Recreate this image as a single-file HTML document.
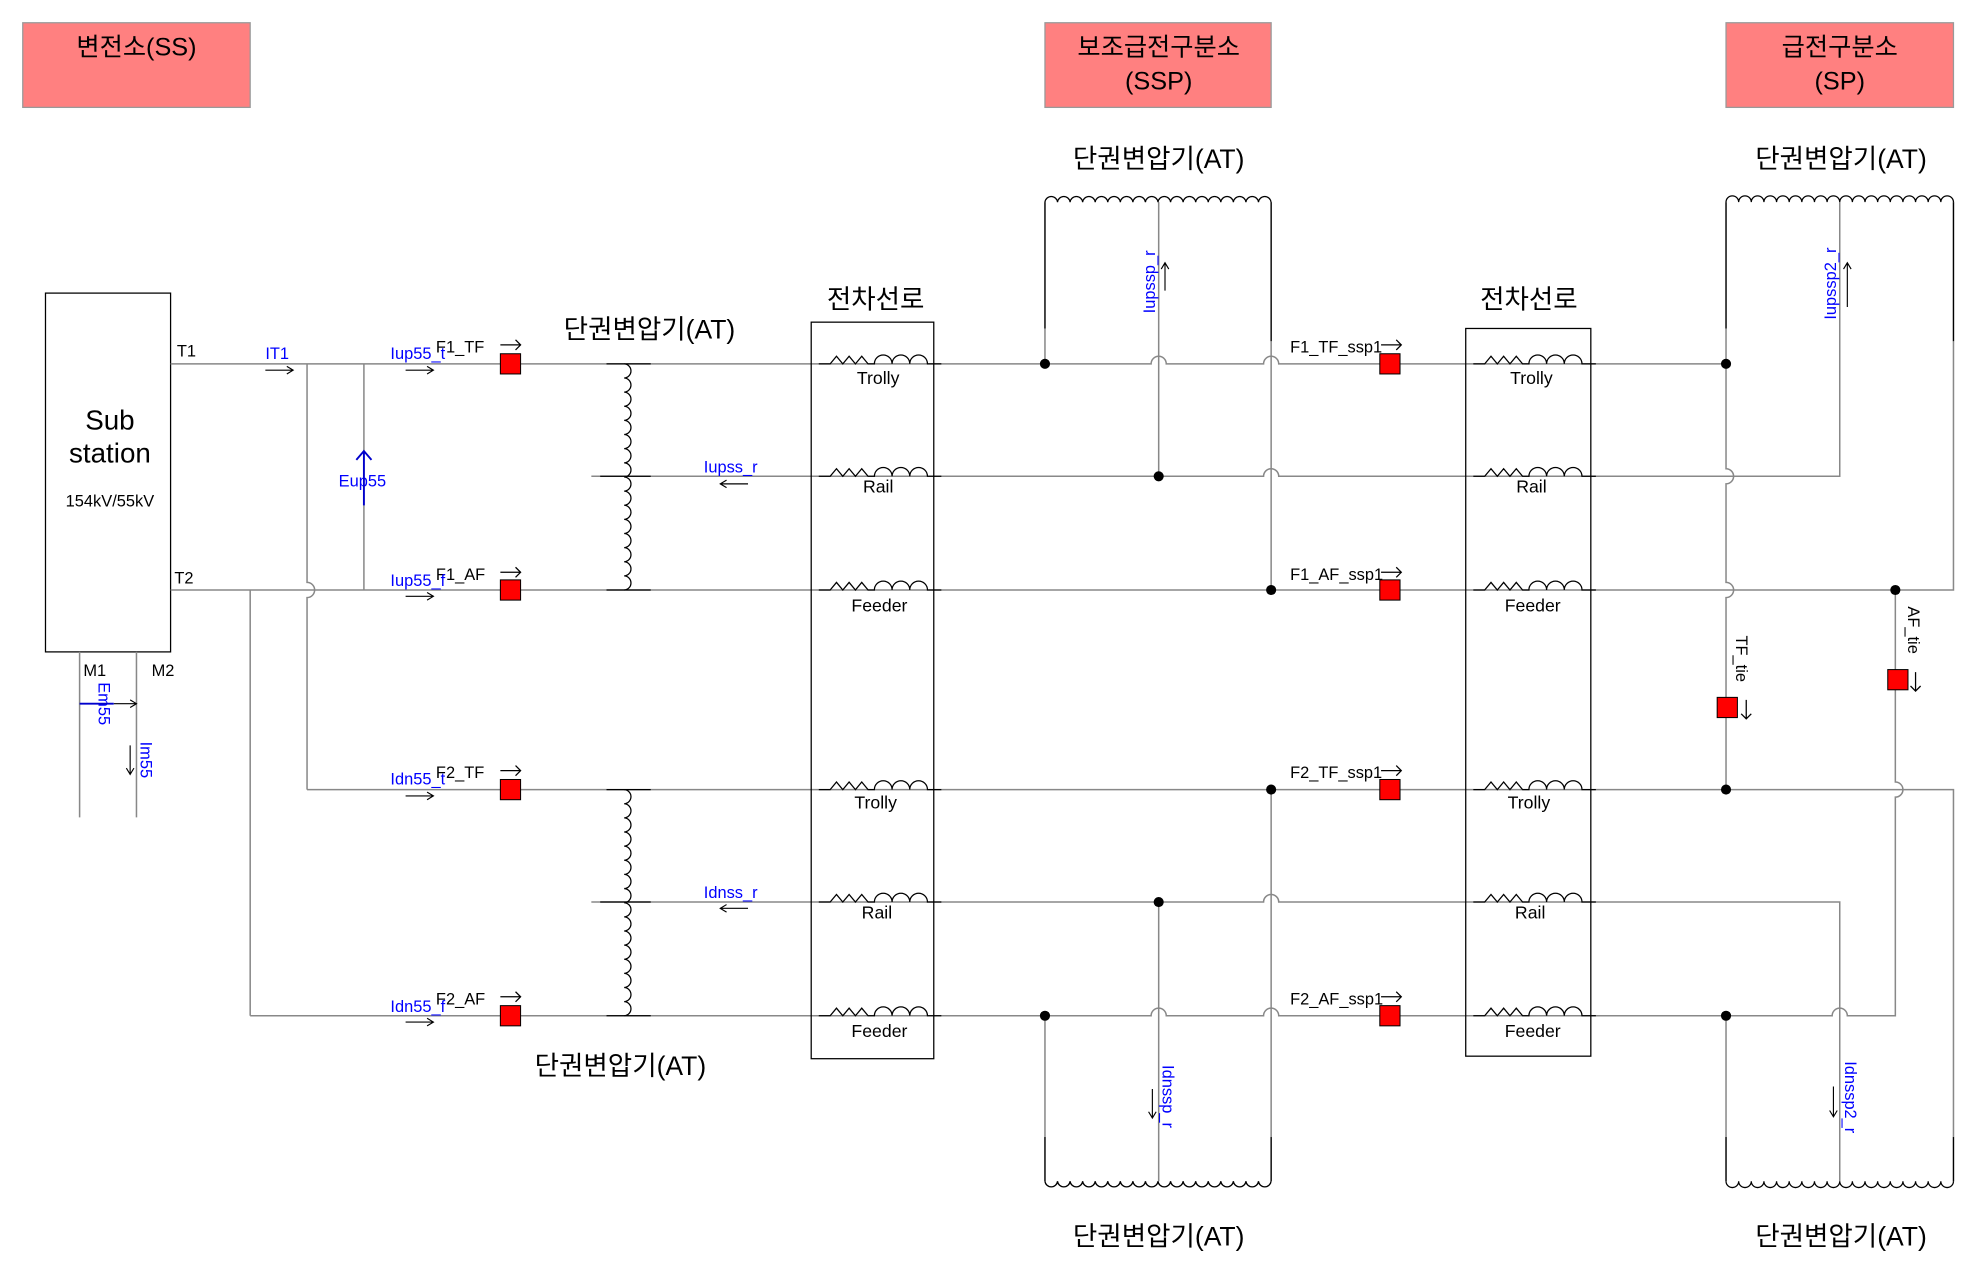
<!DOCTYPE html>
<html><head><meta charset="utf-8"><style>
html,body{margin:0;padding:0;background:#fff;width:1980px;height:1276px;overflow:hidden}
svg{display:block}
text{font-family:"Liberation Sans","Noto Sans CJK KR",sans-serif}
.s{font-size:13px;fill:#000}
.b{font-size:13px;fill:#0000ff}
.k{font-size:21px;fill:#000}
</style></head><body>
<svg width="1980" height="1276" viewBox="0 0 1567 1010" preserveAspectRatio="none" xmlns="http://www.w3.org/2000/svg">
<!-- headers -->
<rect x="18" y="18" width="180" height="67" fill="#ff8080" stroke="#999"/>
<rect x="827" y="18" width="179" height="67" fill="#ff8080" stroke="#999"/>
<rect x="1366" y="18" width="180" height="67" fill="#ff8080" stroke="#999"/>
<text x="108" y="44" class="k" text-anchor="middle" style="font-size:20px">변전소(SS)</text>
<text x="917" y="44" class="k" text-anchor="middle" style="font-size:20px">보조급전구분소</text>
<text x="917" y="71" class="k" text-anchor="middle" style="font-size:20px">(SSP)</text>
<text x="1456" y="44" class="k" text-anchor="middle" style="font-size:20px">급전구분소</text>
<text x="1456" y="71" class="k" text-anchor="middle" style="font-size:20px">(SP)</text>

<!-- substation -->
<rect x="36" y="232" width="99" height="284" fill="none" stroke="#000"/>
<text x="87" y="340" text-anchor="middle" style="font-size:22px">Sub</text>
<text x="87" y="366" text-anchor="middle" style="font-size:22px">station</text>
<text x="87" y="401" text-anchor="middle" class="s">154kV/55kV</text>
<text x="140" y="282" class="s">T1</text>
<text x="138" y="462" class="s">T2</text>
<text x="66" y="535" class="s">M1</text>
<text x="120" y="535" class="s">M2</text>

<g fill="none" stroke="#888" stroke-width="1.2">
<line x1="63" y1="516" x2="63" y2="647"/>
<line x1="108" y1="516" x2="108" y2="647"/>
<path d="M135 288 H911 a6 6 0 0 1 12 0 H1000 a6 6 0 0 1 12 0 H1366"/>
<path d="M468 377 H1000 a6 6 0 0 1 12 0 H1456 V160"/>
<path d="M135 467 H1546 V160"/>
<path d="M243 625 H1546 V935"/>
<path d="M468 714 H1000 a6 6 0 0 1 12 0 H1456 V935"/>
<path d="M198 804 H911 a6 6 0 0 1 12 0 H1000 a6 6 0 0 1 12 0 H1450 a6 6 0 0 1 12 0 H1500 V631 a6 6 0 0 0 0 -12 V467"/>
<path d="M243 288 V461 a6 6 0 0 1 0 12 V625"/>
<line x1="288" y1="288" x2="288" y2="467"/>
<line x1="198" y1="467" x2="198" y2="804"/>
<line x1="827" y1="160" x2="827" y2="288"/>
<line x1="917" y1="160" x2="917" y2="377"/>
<line x1="1006" y1="160" x2="1006" y2="467"/>
<line x1="827" y1="804" x2="827" y2="935"/>
<line x1="917" y1="714" x2="917" y2="935"/>
<line x1="1006" y1="625" x2="1006" y2="935"/>
<path d="M1366 160 V371 a6 6 0 0 1 0 12 V461 a6 6 0 0 1 0 12 V625"/>
<line x1="1366" y1="804" x2="1366" y2="935"/>
</g>

<g fill="none" stroke="#000" stroke-width="1">
<path d="M494 288 a5.6 5.6 0 0 1 0 11.19 a5.6 5.6 0 0 1 0 11.19 a5.6 5.6 0 0 1 0 11.19 a5.6 5.6 0 0 1 0 11.19 a5.6 5.6 0 0 1 0 11.19 a5.6 5.6 0 0 1 0 11.19 a5.6 5.6 0 0 1 0 11.19 a5.6 5.6 0 0 1 0 11.19 a5.6 5.6 0 0 1 0 11.19 a5.6 5.6 0 0 1 0 11.19 a5.6 5.6 0 0 1 0 11.19 a5.6 5.6 0 0 1 0 11.19 a5.6 5.6 0 0 1 0 11.19 a5.6 5.6 0 0 1 0 11.19 a5.6 5.6 0 0 1 0 11.19 a5.6 5.6 0 0 1 0 11.19"/>
<path d="M494 625 a5.6 5.6 0 0 1 0 11.19 a5.6 5.6 0 0 1 0 11.19 a5.6 5.6 0 0 1 0 11.19 a5.6 5.6 0 0 1 0 11.19 a5.6 5.6 0 0 1 0 11.19 a5.6 5.6 0 0 1 0 11.19 a5.6 5.6 0 0 1 0 11.19 a5.6 5.6 0 0 1 0 11.19 a5.6 5.6 0 0 1 0 11.19 a5.6 5.6 0 0 1 0 11.19 a5.6 5.6 0 0 1 0 11.19 a5.6 5.6 0 0 1 0 11.19 a5.6 5.6 0 0 1 0 11.19 a5.6 5.6 0 0 1 0 11.19 a5.6 5.6 0 0 1 0 11.19 a5.6 5.6 0 0 1 0 11.19"/>
<path d="M827 160 a5 5 0 0 1 9.94 0 a5 5 0 0 1 9.94 0 a5 5 0 0 1 9.94 0 a5 5 0 0 1 9.94 0 a5 5 0 0 1 9.94 0 a5 5 0 0 1 9.94 0 a5 5 0 0 1 9.94 0 a5 5 0 0 1 9.94 0 a5 5 0 0 1 9.94 0 a5 5 0 0 1 9.94 0 a5 5 0 0 1 9.94 0 a5 5 0 0 1 9.94 0 a5 5 0 0 1 9.94 0 a5 5 0 0 1 9.94 0 a5 5 0 0 1 9.94 0 a5 5 0 0 1 9.94 0 a5 5 0 0 1 9.94 0 a5 5 0 0 1 9.94 0"/>
<path d="M1366 160 a5 5 0 0 1 10 0 a5 5 0 0 1 10 0 a5 5 0 0 1 10 0 a5 5 0 0 1 10 0 a5 5 0 0 1 10 0 a5 5 0 0 1 10 0 a5 5 0 0 1 10 0 a5 5 0 0 1 10 0 a5 5 0 0 1 10 0 a5 5 0 0 1 10 0 a5 5 0 0 1 10 0 a5 5 0 0 1 10 0 a5 5 0 0 1 10 0 a5 5 0 0 1 10 0 a5 5 0 0 1 10 0 a5 5 0 0 1 10 0 a5 5 0 0 1 10 0 a5 5 0 0 1 10 0"/>
<path d="M827 935 a5 5 0 0 0 9.94 0 a5 5 0 0 0 9.94 0 a5 5 0 0 0 9.94 0 a5 5 0 0 0 9.94 0 a5 5 0 0 0 9.94 0 a5 5 0 0 0 9.94 0 a5 5 0 0 0 9.94 0 a5 5 0 0 0 9.94 0 a5 5 0 0 0 9.94 0 a5 5 0 0 0 9.94 0 a5 5 0 0 0 9.94 0 a5 5 0 0 0 9.94 0 a5 5 0 0 0 9.94 0 a5 5 0 0 0 9.94 0 a5 5 0 0 0 9.94 0 a5 5 0 0 0 9.94 0 a5 5 0 0 0 9.94 0 a5 5 0 0 0 9.94 0"/>
<path d="M1366 935 a5 5 0 0 0 10 0 a5 5 0 0 0 10 0 a5 5 0 0 0 10 0 a5 5 0 0 0 10 0 a5 5 0 0 0 10 0 a5 5 0 0 0 10 0 a5 5 0 0 0 10 0 a5 5 0 0 0 10 0 a5 5 0 0 0 10 0 a5 5 0 0 0 10 0 a5 5 0 0 0 10 0 a5 5 0 0 0 10 0 a5 5 0 0 0 10 0 a5 5 0 0 0 10 0 a5 5 0 0 0 10 0 a5 5 0 0 0 10 0 a5 5 0 0 0 10 0 a5 5 0 0 0 10 0"/>
<line x1="827" y1="160" x2="827" y2="260"/><line x1="1006" y1="160" x2="1006" y2="270"/>
<line x1="1366" y1="160" x2="1366" y2="260"/><line x1="1546" y1="160" x2="1546" y2="270"/>
<line x1="827" y1="935" x2="827" y2="900"/><line x1="1006" y1="935" x2="1006" y2="900"/>
<line x1="1366" y1="935" x2="1366" y2="900"/><line x1="1546" y1="935" x2="1546" y2="900"/>
<line x1="475" y1="377" x2="515" y2="377"/><line x1="475" y1="714" x2="515" y2="714"/>
<line x1="480" y1="288" x2="515" y2="288"/><line x1="480" y1="467" x2="515" y2="467"/>
<line x1="480" y1="625" x2="515" y2="625"/><line x1="480" y1="804" x2="515" y2="804"/>
</g>

<g fill="none" stroke="#000" stroke-width="1">
<rect x="642" y="255" width="97" height="583"/>
<rect x="1160" y="260" width="99" height="576"/>
<g id="el">
<path d="M648 288 H657 L662 282 L667 288 L672 282 L677 288 L682 282 L687 288 H692 a7 7 0 0 1 14 0 a7 7 0 0 1 14 0 a7 7 0 0 1 14 0 H745"/>
</g>
<use href="#el" y="89"/><use href="#el" y="179"/><use href="#el" y="337"/><use href="#el" y="426"/><use href="#el" y="516"/>
<use href="#el" x="518"/><use href="#el" x="518" y="89"/><use href="#el" x="518" y="179"/><use href="#el" x="518" y="337"/><use href="#el" x="518" y="426"/><use href="#el" x="518" y="516"/>
</g>
<g class="s" text-anchor="middle" style="font-size:14px">
<text x="695" y="304">Trolly</text><text x="695" y="390">Rail</text><text x="696" y="484">Feeder</text>
<text x="693" y="640">Trolly</text><text x="694" y="727">Rail</text><text x="696" y="821">Feeder</text>
<text x="1212" y="304">Trolly</text><text x="1212" y="390">Rail</text><text x="1213" y="484">Feeder</text>
<text x="1210" y="640">Trolly</text><text x="1211" y="727">Rail</text><text x="1213" y="821">Feeder</text>
</g>

<g fill="#000">
<circle cx="827" cy="288" r="4"/><circle cx="917" cy="377" r="4"/><circle cx="1006" cy="467" r="4"/>
<circle cx="1006" cy="625" r="4"/><circle cx="917" cy="714" r="4"/><circle cx="827" cy="804" r="4"/>
<circle cx="1366" cy="288" r="4"/><circle cx="1500" cy="467" r="4"/><circle cx="1366" cy="625" r="4"/><circle cx="1366" cy="804" r="4"/>
</g>

<g fill="#ff0000" stroke="#000" stroke-width="0.8">
<rect x="396" y="280" width="16" height="16"/><rect x="396" y="459" width="16" height="16"/>
<rect x="396" y="617" width="16" height="16"/><rect x="396" y="796" width="16" height="16"/>
<rect x="1092" y="280" width="16" height="16"/><rect x="1092" y="459" width="16" height="16"/>
<rect x="1092" y="617" width="16" height="16"/><rect x="1092" y="796" width="16" height="16"/>
<rect x="1359" y="552" width="16" height="16"/><rect x="1494" y="530" width="16" height="16"/>
</g>

<g class="s">
<text x="345" y="279">F1_TF</text><text x="345" y="459">F1_AF</text>
<text x="345" y="616">F2_TF</text><text x="345" y="795">F2_AF</text>
<text x="1021" y="279">F1_TF_ssp1</text><text x="1021" y="459">F1_AF_ssp1</text>
<text x="1021" y="616">F2_TF_ssp1</text><text x="1021" y="795">F2_AF_ssp1</text>
<text transform="translate(1374,503) rotate(90)">TF_tie</text>
<text transform="translate(1510,480) rotate(90)">AF_tie</text>
</g>
<g fill="none" stroke="#000" stroke-width="1">
<path d="M396 273 H412 M408 269 L412 273 L408 277"/>
<path d="M396 453 H412 M408 449 L412 453 L408 457"/>
<path d="M396 610 H412 M408 606 L412 610 L408 614"/>
<path d="M396 789 H412 M408 785 L412 789 L408 793"/>
<path d="M1093 273 H1109 M1105 269 L1109 273 L1105 277"/>
<path d="M1093 453 H1109 M1105 449 L1109 453 L1105 457"/>
<path d="M1093 610 H1109 M1105 606 L1109 610 L1105 614"/>
<path d="M1093 789 H1109 M1105 785 L1109 789 L1105 793"/>
<path d="M1382 554 V569 M1378 565 L1382 569 L1386 565"/>
<path d="M1516 532 V547 M1512 543 L1516 547 L1520 543"/>
</g>

<g class="b">
<text x="210" y="284">IT1</text>
<text x="309" y="284">Iup55_t</text><text x="309" y="464">Iup55_f</text>
<text x="309" y="621">Idn55_t</text><text x="309" y="801">Idn55_f</text>
<text x="268" y="385">Eup55</text>
<text x="557" y="374">Iupss_r</text><text x="557" y="711">Idnss_r</text>
<text transform="translate(914,248) rotate(-90)">Iupssp_r</text>
<text transform="translate(1453,253) rotate(-90)">Iupssp2_r</text>
<text transform="translate(920,843) rotate(90)">Idnssp_r</text>
<text transform="translate(1460,840) rotate(90)">Idnssp2_r</text>
<text transform="translate(78,540) rotate(90)">Em55</text>
<text transform="translate(111,587) rotate(90)">Im55</text>
</g>
<g fill="none" stroke="#000" stroke-width="0.9">
<path d="M210 293 H232 M227 290 L232 293 L227 296"/>
<path d="M321 293 H343 M338 290 L343 293 L338 296"/>
<path d="M321 472 H343 M338 469 L343 472 L338 475"/>
<path d="M321 630 H343 M338 627 L343 630 L338 633"/>
<path d="M321 809 H343 M338 806 L343 809 L338 812"/>
<path d="M570 383 H592 M575 380 L570 383 L575 386"/>
<path d="M570 719 H592 M575 716 L570 719 L575 722"/>
<path d="M922 230 V208 M919 213 L922 208 L925 213"/>
<path d="M1462 243 V208 M1459 213 L1462 208 L1465 213"/>
<path d="M912 862 V885 M909 880 L912 885 L915 880"/>
<path d="M1451 860 V884 M1448 879 L1451 884 L1454 879"/>
<path d="M90 557 H108 M103 554 L108 557 L103 560"/>
<path d="M103 590 V613 M100 608 L103 613 L106 608"/>
</g>
<g stroke="#0000cc" stroke-width="1.5" fill="none"><path d="M288 400 V357 M282 364 L288 357 L294 364"/>
<line x1="63" y1="557" x2="90" y2="557"/></g>

<g class="k" text-anchor="middle">
<text x="514" y="268">단권변압기(AT)</text>
<text x="917" y="133">단권변압기(AT)</text>
<text x="1457" y="133">단권변압기(AT)</text>
<text x="491" y="851">단권변압기(AT)</text>
<text x="917" y="986">단권변압기(AT)</text>
<text x="1457" y="986">단권변압기(AT)</text>
<text x="693" y="244">전차선로</text>
<text x="1210" y="244">전차선로</text>
</g>
</svg>
</body></html>
